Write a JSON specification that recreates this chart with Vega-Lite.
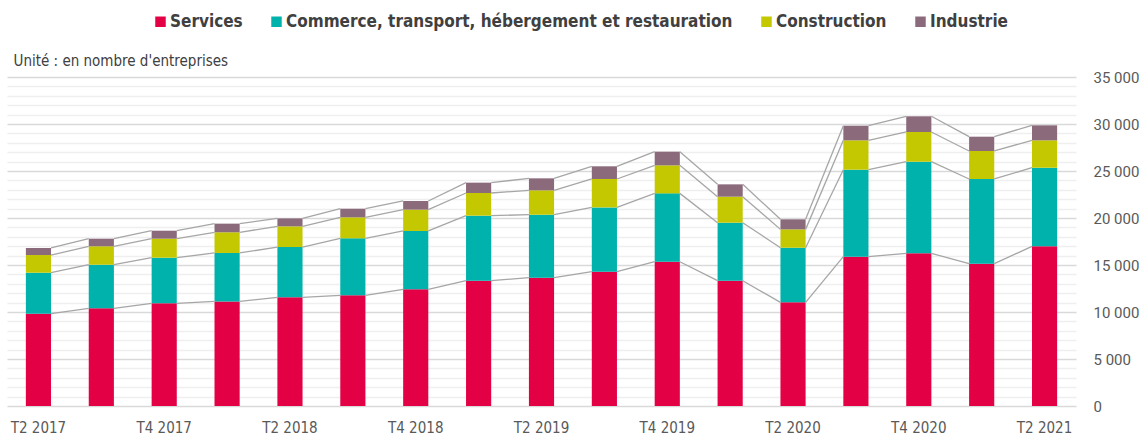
{
"$schema": "https://vega.github.io/schema/vega-lite/v6.json",
"width": 1069, "height": 329,
"autosize": {"type": "none"},
"padding": {"left": 7, "top": 77, "right": 66, "bottom": 30},
"background": "white",
"config": {"view": {"stroke": null}},
"datasets": {"d": [
{"q":"T2 2017","i":1,"k":1,"s":"Services","v":9820},{"q":"T2 2017","i":1,"k":2,"s":"Commerce, transport, hébergement et restauration","v":4360},{"q":"T2 2017","i":1,"k":3,"s":"Construction","v":1880},{"q":"T2 2017","i":1,"k":4,"s":"Industrie","v":750},
{"q":"T3 2017","i":2,"k":1,"s":"Services","v":10390},{"q":"T3 2017","i":2,"k":2,"s":"Commerce, transport, hébergement et restauration","v":4640},{"q":"T3 2017","i":2,"k":3,"s":"Construction","v":1960},{"q":"T3 2017","i":2,"k":4,"s":"Industrie","v":810},
{"q":"T4 2017","i":3,"k":1,"s":"Services","v":10920},{"q":"T4 2017","i":3,"k":2,"s":"Commerce, transport, hébergement et restauration","v":4860},{"q":"T4 2017","i":3,"k":3,"s":"Construction","v":2020},{"q":"T4 2017","i":3,"k":4,"s":"Industrie","v":850},
{"q":"T1 2018","i":4,"k":1,"s":"Services","v":11130},{"q":"T1 2018","i":4,"k":2,"s":"Commerce, transport, hébergement et restauration","v":5150},{"q":"T1 2018","i":4,"k":3,"s":"Construction","v":2200},{"q":"T1 2018","i":4,"k":4,"s":"Industrie","v":920},
{"q":"T2 2018","i":5,"k":1,"s":"Services","v":11560},{"q":"T2 2018","i":5,"k":2,"s":"Commerce, transport, hébergement et restauration","v":5350},{"q":"T2 2018","i":5,"k":3,"s":"Construction","v":2200},{"q":"T2 2018","i":5,"k":4,"s":"Industrie","v":850},
{"q":"T3 2018","i":6,"k":1,"s":"Services","v":11770},{"q":"T3 2018","i":6,"k":2,"s":"Commerce, transport, hébergement et restauration","v":6070},{"q":"T3 2018","i":6,"k":3,"s":"Construction","v":2230},{"q":"T3 2018","i":6,"k":4,"s":"Industrie","v":920},
{"q":"T4 2018","i":7,"k":1,"s":"Services","v":12410},{"q":"T4 2018","i":7,"k":2,"s":"Commerce, transport, hébergement et restauration","v":6210},{"q":"T4 2018","i":7,"k":3,"s":"Construction","v":2270},{"q":"T4 2018","i":7,"k":4,"s":"Industrie","v":920},
{"q":"T1 2019","i":8,"k":1,"s":"Services","v":13330},{"q":"T1 2019","i":8,"k":2,"s":"Commerce, transport, hébergement et restauration","v":6920},{"q":"T1 2019","i":8,"k":3,"s":"Construction","v":2410},{"q":"T1 2019","i":8,"k":4,"s":"Industrie","v":1100},
{"q":"T2 2019","i":9,"k":1,"s":"Services","v":13650},{"q":"T2 2019","i":9,"k":2,"s":"Commerce, transport, hébergement et restauration","v":6700},{"q":"T2 2019","i":9,"k":3,"s":"Construction","v":2590},{"q":"T2 2019","i":9,"k":4,"s":"Industrie","v":1280},
{"q":"T3 2019","i":10,"k":1,"s":"Services","v":14290},{"q":"T3 2019","i":10,"k":2,"s":"Commerce, transport, hébergement et restauration","v":6840},{"q":"T3 2019","i":10,"k":3,"s":"Construction","v":3020},{"q":"T3 2019","i":10,"k":4,"s":"Industrie","v":1350},
{"q":"T4 2019","i":11,"k":1,"s":"Services","v":15350},{"q":"T4 2019","i":11,"k":2,"s":"Commerce, transport, hébergement et restauration","v":7270},{"q":"T4 2019","i":11,"k":3,"s":"Construction","v":2980},{"q":"T4 2019","i":11,"k":4,"s":"Industrie","v":1460},
{"q":"T1 2020","i":12,"k":1,"s":"Services","v":13330},{"q":"T1 2020","i":12,"k":2,"s":"Commerce, transport, hébergement et restauration","v":6170},{"q":"T1 2020","i":12,"k":3,"s":"Construction","v":2770},{"q":"T1 2020","i":12,"k":4,"s":"Industrie","v":1310},
{"q":"T2 2020","i":13,"k":1,"s":"Services","v":11030},{"q":"T2 2020","i":13,"k":2,"s":"Commerce, transport, hébergement et restauration","v":5810},{"q":"T2 2020","i":13,"k":3,"s":"Construction","v":1950},{"q":"T2 2020","i":13,"k":4,"s":"Industrie","v":1070},
{"q":"T3 2020","i":14,"k":1,"s":"Services","v":15890},{"q":"T3 2020","i":14,"k":2,"s":"Commerce, transport, hébergement et restauration","v":9250},{"q":"T3 2020","i":14,"k":3,"s":"Construction","v":3120},{"q":"T3 2020","i":14,"k":4,"s":"Industrie","v":1560},
{"q":"T4 2020","i":15,"k":1,"s":"Services","v":16240},{"q":"T4 2020","i":15,"k":2,"s":"Commerce, transport, hébergement et restauration","v":9750},{"q":"T4 2020","i":15,"k":3,"s":"Construction","v":3160},{"q":"T4 2020","i":15,"k":4,"s":"Industrie","v":1670},
{"q":"T1 2021","i":16,"k":1,"s":"Services","v":15140},{"q":"T1 2021","i":16,"k":2,"s":"Commerce, transport, hébergement et restauration","v":9010},{"q":"T1 2021","i":16,"k":3,"s":"Construction","v":2980},{"q":"T1 2021","i":16,"k":4,"s":"Industrie","v":1520},
{"q":"T2 2021","i":17,"k":1,"s":"Services","v":16990},{"q":"T2 2021","i":17,"k":2,"s":"Commerce, transport, hébergement et restauration","v":8360},{"q":"T2 2021","i":17,"k":3,"s":"Construction","v":2910},{"q":"T2 2021","i":17,"k":4,"s":"Industrie","v":1600}
]},
"data": {"name": "d"},
"layer": [
{
"mark": {"type": "bar"},
"encoding": {
"x": {"field": "q", "type": "ordinal",
 "scale": {"domain": ["T2 2017","T3 2017","T4 2017","T1 2018","T2 2018","T3 2018","T4 2018","T1 2019","T2 2019","T3 2019","T4 2019","T1 2020","T2 2020","T3 2020","T4 2020","T1 2021","T2 2021"], "paddingInner": 0.6, "paddingOuter": 0.3},
 "axis": {"values": ["T2 2017","T4 2017","T2 2018","T4 2018","T2 2019","T4 2019","T2 2020","T4 2020","T2 2021"], "ticks": false, "domain": false, "labelAngle": 0, "labelFont": "DejaVu Sans Condensed", "labelFontSize": 15, "labelColor": "#595959", "labelPadding": 14, "title": null}},
"y": {"field": "v", "type": "quantitative", "stack": "zero",
 "scale": {"domain": [0, 35000], "nice": false},
 "axis": {"orient": "right", "values": [0,5000,10000,15000,20000,25000,30000,35000], "grid": true, "gridColor": "#d9d9d9", "gridWidth": 1.5, "ticks": false, "domain": false, "labelExpr": "replace(format(datum.value, ','), ',', ' ')", "labelFont": "Roboto", "labelFontSize": 15, "labelColor": "#595959", "labelPadding": 17, "title": null}},
"color": {"field": "s", "type": "nominal",
 "scale": {"domain": ["Services","Commerce, transport, hébergement et restauration","Construction","Industrie"], "range": ["#e30045","#00b2ac","#c4c800","#8b6b7b"]},
 "legend": {"orient": "none", "legendX": 145, "legendY": -64, "direction": "horizontal", "title": null, "symbolType": "square", "symbolSize": 110, "symbolStrokeWidth": 0, "labelFont": "DejaVu Sans Condensed", "labelFontWeight": "bold", "labelFontSize": 17, "labelColor": "#404040", "columnPadding": 25, "labelOffset": 1, "labelLimit": 700}},
"order": {"field": "k", "type": "quantitative"}
}
},
{
"transform": [
 {"stack": "v", "groupby": ["q"], "sort": [{"field": "k", "order": "ascending"}], "as": ["v0", "v1"]},
 {"window": [{"op": "lead", "field": "v1", "as": "nv"}, {"op": "lead", "field": "q", "as": "nq"}], "groupby": ["s"], "sort": [{"field": "i", "order": "ascending"}]},
 {"filter": "datum.nq != null"}
],
"mark": {"type": "rule", "color": "#a6a6a6", "strokeWidth": 1.3},
"encoding": {
"x": {"field": "q", "type": "ordinal", "bandPosition": 1},
"x2": {"field": "nq", "bandPosition": 0},
"y": {"field": "v1", "type": "quantitative",
 "axis": {"orient": "left", "values": [1000,2000,3000,4000,6000,7000,8000,9000,11000,12000,13000,14000,16000,17000,18000,19000,21000,22000,23000,24000,26000,27000,28000,29000,31000,32000,33000,34000], "grid": true, "gridColor": "#efefef", "gridWidth": 1.5, "labels": false, "ticks": false, "domain": false,
  "title": "Unité : en nombre d'entreprises", "titleAngle": 0, "titleAlign": "left", "titleBaseline": "bottom", "titleX": 6, "titleY": -9, "titleFont": "DejaVu Sans Condensed", "titleFontSize": 15, "titleFontWeight": "normal", "titleColor": "#404040"}},
"y2": {"field": "nv"}
}
}
],
"resolve": {"axis": {"y": "independent"}}
}
